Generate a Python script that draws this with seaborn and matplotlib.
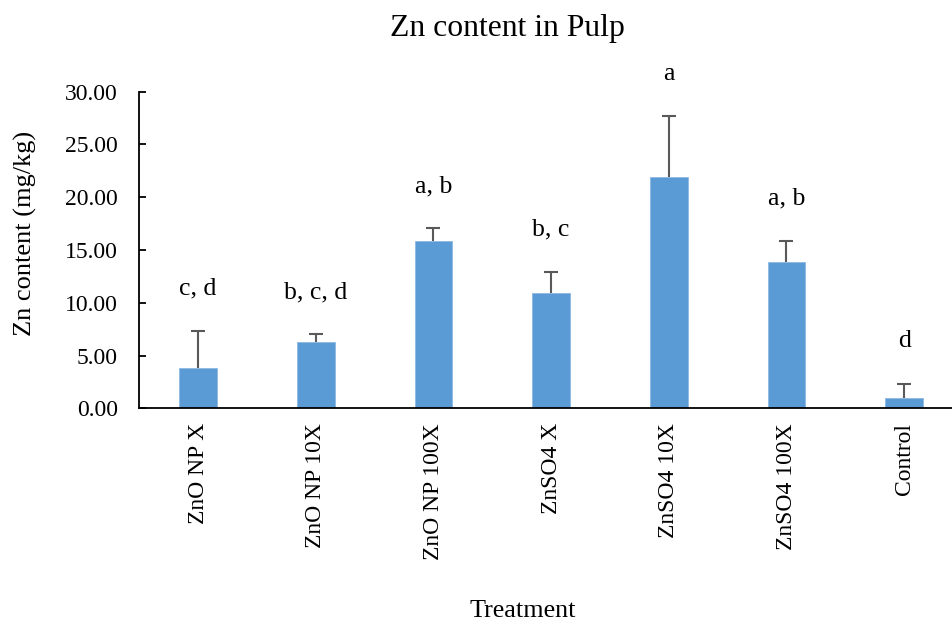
import numpy as np
import matplotlib
matplotlib.use("Agg")
import matplotlib.pyplot as plt
import seaborn as sns

# Zn content in fruit pulp per treatment (mean and standard deviation, mg/kg)
treatments = ["ZnO NP X", "ZnO NP 10X", "ZnO NP 100X", "ZnSO4 X",
              "ZnSO4 10X", "ZnSO4 100X", "Control"]
zn_mean = [3.80, 6.27, 15.84, 10.93, 21.96, 13.84, 0.98]
zn_sd = [3.52, 0.73, 1.20, 2.00, 5.76, 2.03, 1.36]
groups = ["c, d", "b, c, d", "a, b", "b, c", "a", "a, b", "d"]
y_ticks = [0, 5, 10, 15, 20, 25, 30]

sns.set_style("white")
plt.rcParams["font.family"] = ["Liberation Serif", "DejaVu Serif"]
plt.rcParams["text.color"] = "black"

W, H = 953, 623
fig = plt.figure(figsize=(W / 100, H / 100), dpi=100)
ax = fig.add_axes([139.3 / W, 1 - 408.3 / H, (963 - 139.3) / W, (408.3 - 91.7) / H])

bar_color = "#5B9BD5"
sns.barplot(x=treatments, y=zn_mean, color=bar_color, width=0.32,
            errorbar=None, saturation=1, edgecolor="#8DB8E2", linewidth=0.6, ax=ax)

# one-sided (upper) error bars; the lower cap is hidden
pos = np.arange(len(treatments))
_, caps, _ = ax.errorbar(pos, zn_mean, yerr=[np.zeros(len(zn_sd)), zn_sd], fmt="none",
                         ecolor="#595959", elinewidth=1.5, capsize=4.8, capthick=1.5,
                         zorder=3)
caps[0].set_visible(False)

# significance letters above each error bar
for x, m, s, g in zip(pos, zn_mean, zn_sd, groups):
    ax.annotate(g, xy=(x, m + s), xytext=(0, 26), textcoords="offset points",
                ha="center", va="baseline", fontsize=18.5, color="black")

ax.set_xlim(-0.5, len(treatments) - 0.5)
ax.set_ylim(0, 30)
ax.set_yticks(y_ticks)
ax.set_yticklabels([f"{v:.2f}" for v in y_ticks])
ax.set_xticks(pos)
ax.set_xticklabels(treatments, rotation=90)
ax.set_xticks(np.arange(0.5, len(treatments) - 0.5, 1), minor=True)

ax.tick_params(axis="x", which="major", length=0, pad=10.5, labelsize=17, colors="black")
ax.tick_params(axis="x", which="minor", direction="in", length=5.3, width=1.3, color="black")
ax.tick_params(axis="y", direction="in", length=5.3, width=1.3, pad=15.3,
               labelsize=17, colors="black", left=True)

for side in ["top", "right"]:
    ax.spines[side].set_visible(False)
for side in ["left", "bottom"]:
    ax.spines[side].set_color("black")
    ax.spines[side].set_linewidth(1.3)

ax.set_xlabel("")
ax.set_ylabel("")
fig.text(507 / W, 1 - 35.7 / H, "Zn content in Pulp", ha="center", va="baseline",
         fontsize=22.8, color="black")
fig.text(523 / W, 1 - 617 / H, "Treatment", ha="center", va="baseline",
         fontsize=18.8, color="black")
fig.text(25 / W, 1 - 233.5 / H, "Zn content (mg/kg)", ha="center", va="center",
         rotation=90, fontsize=19, color="black")

fig.savefig("out.png", dpi=100)
